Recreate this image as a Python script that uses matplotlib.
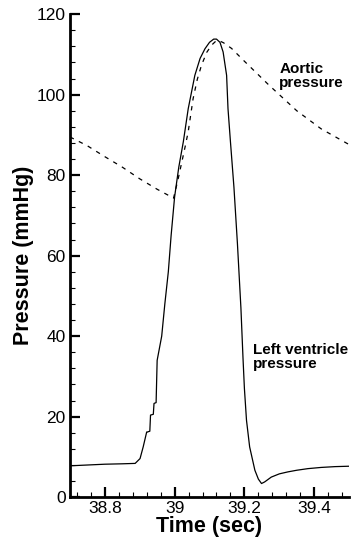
import numpy as np
import matplotlib
matplotlib.use('Agg')
import matplotlib.pyplot as plt
from matplotlib.ticker import MultipleLocator

plt.rcParams['font.family'] = ['Liberation Sans', 'DejaVu Sans']

# ── Datos ───────────────────────────────────────────────────────────────────
t_lv = [38.70, 38.75, 38.80, 38.85, 38.887, 38.901, 38.91, 38.92, 38.922,
        38.929, 38.931, 38.939, 38.941, 38.947, 38.95, 38.963, 38.972,
        38.982, 38.99, 39.00, 39.012, 39.025, 39.039, 39.058, 39.073,
        39.087, 39.10, 39.112, 39.12, 39.13, 39.139, 39.149, 39.153, 39.16,
        39.17, 39.18, 39.19, 39.196, 39.20, 39.206, 39.215, 39.23, 39.24,
        39.249, 39.258, 39.277, 39.30, 39.325, 39.35, 39.382, 39.42, 39.46,
        39.50]
p_lv = [7.8, 8.0, 8.2, 8.3, 8.4, 9.6, 12.5, 16.2, 16.2,
        16.4, 20.4, 20.6, 23.3, 23.5, 34.0, 40.0, 48.0,
        56.0, 65.0, 74.6, 82.0, 88.3, 96.5, 104.8, 109.0,
        111.4, 113.0, 113.8, 113.8, 113.0, 110.6, 104.8, 96.5, 88.3,
        77.0, 63.0, 47.0, 34.5, 27.0, 19.1, 12.5, 6.7, 4.5,
        3.4, 3.8, 5.0, 5.8, 6.3, 6.7, 7.1, 7.4, 7.6,
        7.7]

t_ao = [38.70, 38.75, 38.80, 38.85, 38.90, 38.95, 38.997, 39.01, 39.02,
        39.03, 39.039, 39.053, 39.065, 39.077, 39.092, 39.106, 39.117,
        39.125, 39.14, 39.163, 39.20, 39.27, 39.35, 39.42, 39.50]
p_ao = [89.5, 87.3, 84.6, 82.0, 79.1, 76.5, 74.3, 79.0, 83.0,
        87.0, 90.8, 99.0, 103.8, 107.3, 110.5, 112.3, 113.2,
        113.5, 112.9, 111.5, 108.3, 102.4, 96.0, 91.5, 87.6]

# ── Gráfica ─────────────────────────────────────────────────────────────────
fig = plt.figure(figsize=(3.53, 5.44), dpi=100)
ax = fig.add_axes([0.198, 0.086, 0.791, 0.888])

ax.plot(t_lv, p_lv, color='black', linewidth=0.9)
ax.plot(t_ao, p_ao, color='black', linewidth=0.9, linestyle=(0, (3.5, 4.5)))

ax.text(39.30, 104.6, 'Aortic\npressure', fontsize=11, fontweight='bold',
        ha='left', va='center', linespacing=0.95)
ax.text(39.225, 34.8, 'Left ventricle\npressure', fontsize=11, fontweight='bold',
        ha='left', va='center', linespacing=0.95)

ax.set_xlim(38.7, 39.5)
ax.set_ylim(0, 120)
ax.xaxis.set_major_locator(MultipleLocator(0.2))
ax.xaxis.set_minor_locator(MultipleLocator(0.04))
ax.yaxis.set_major_locator(MultipleLocator(20))
ax.yaxis.set_minor_locator(MultipleLocator(4))
ax.set_xticks([38.8, 39.0, 39.2, 39.4])
ax.set_xticklabels(['38.8', '39', '39.2', '39.4'])

for s in ['top', 'right']:
    ax.spines[s].set_visible(False)
for s in ['left', 'bottom']:
    ax.spines[s].set_linewidth(2.0)

ax.tick_params(which='major', direction='in', length=7, width=1.6,
               labelsize=12.5, pad=3)
ax.tick_params(which='minor', direction='in', length=3.5, width=0.8)

ax.set_xlabel('Time (sec)', fontsize=15.5, fontweight='bold', labelpad=0)
ax.set_ylabel('Pressure (mmHg)', fontsize=15.5, fontweight='bold', labelpad=2)

fig.savefig('out.png', dpi=100)
